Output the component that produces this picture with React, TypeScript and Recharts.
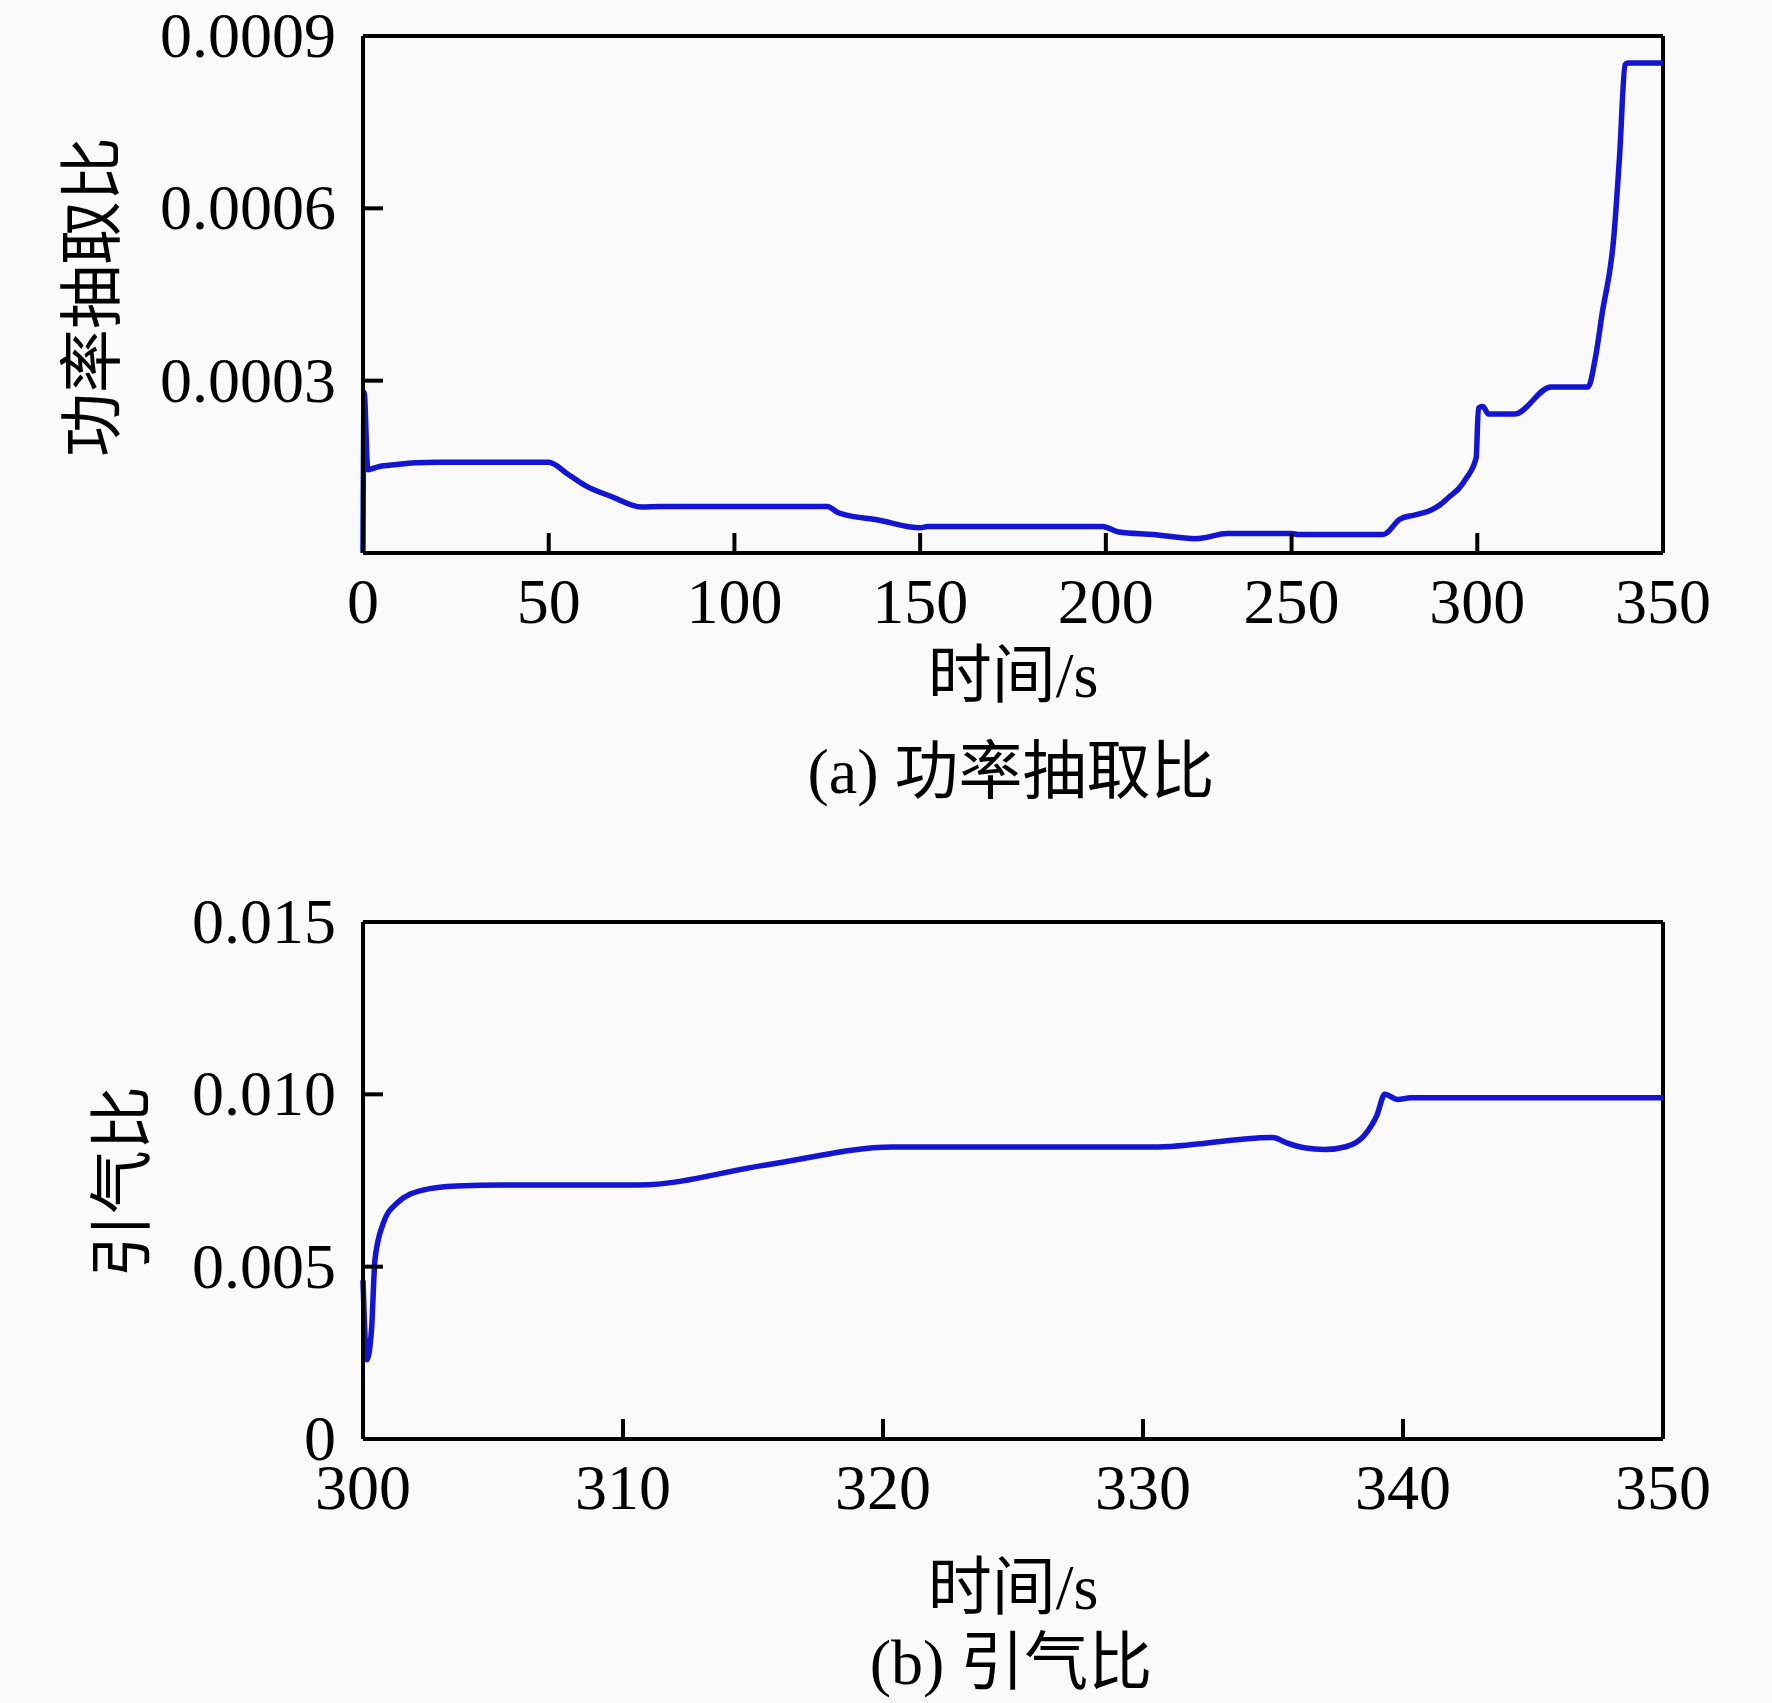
import React from 'react';
import { LineChart, Line, XAxis, YAxis, ReferenceLine } from 'recharts';

// (a) power extraction ratio over 0-350 s
const powerTime = [0, 0.3, 1.3, 4, 9, 14, 20, 30, 50, 55, 60, 67, 75, 80, 100, 125, 128, 139, 150, 152, 199, 203.5, 212.7, 224.3, 226, 232.6, 250, 252, 274.6, 279.3, 283, 287, 290, 292.4, 295, 297, 299.7, 300.3, 301.5, 303, 310, 319.9, 329.8, 331.8, 333.6, 336.8, 338.3, 339.8, 340.5, 350];
const powerRatio = [0, 0.00028, 0.000145, 0.00015, 0.000154, 0.000157, 0.000158, 0.000158, 0.000158, 0.000138, 0.000117, 0.000098, 0.00008, 0.000081, 0.000081, 0.000081, 0.00007, 0.000057, 0.000044, 0.000046, 0.000046, 0.0000366, 0.0000322, 0.000025, 0.000026, 0.000034, 0.000034, 0.000032, 0.000032, 0.0000595, 0.000066, 0.000073, 0.000084, 0.0000975, 0.000112, 0.00013, 0.000166, 0.000252, 0.000255, 0.000242, 0.000242, 0.000289, 0.000289, 0.00034, 0.000416, 0.000553, 0.00069, 0.00085, 0.000853, 0.000853];
const powerXTicks = [0, 50, 100, 150, 200, 250, 300, 350];
const powerYTicks = [0, 0.0003, 0.0006, 0.0009];
const powerYLabels = ['', '0.0003', '0.0006', '0.0009'];

// (b) bleed ratio over 300-350 s
const bleedTime = [300, 300.15, 300.33, 300.46, 300.78, 301.3, 302.3, 303.6, 305.4, 310.6, 315.5, 320.4, 330.4, 335, 335.5, 336.2, 337, 337.8, 338.5, 339, 339.3, 339.8, 340.3, 350];
const bleedRatio = [0.0046, 0.0023, 0.0032, 0.0052, 0.00626, 0.00684, 0.00722, 0.00734, 0.00737, 0.00737, 0.00795, 0.00847, 0.00847, 0.00875, 0.0086, 0.00845, 0.0084, 0.00848, 0.0088, 0.0094, 0.01, 0.00985, 0.0099, 0.0099];
const bleedXTicks = [300, 310, 320, 330, 340, 350];
const bleedYTicks = [0, 0.005, 0.01, 0.015];
const bleedYLabels = ['0', '0.005', '0.010', '0.015'];

const powerData = powerTime.map((t, i) => ({ t, v: powerRatio[i] }));
const bleedData = bleedTime.map((t, i) => ({ t, v: bleedRatio[i] }));

const FONT = "'Liberation Serif', 'Times New Roman', 'Noto Sans CJK SC', serif";
const LINE_BLUE = '#1414d4';
const AXIS = { stroke: '#000', strokeWidth: 4 };

function makeXTick(ends: number[]) {
  return (props: any) => {
    const { x, y, payload } = props;
    const inner = !ends.includes(payload.value);
    return (
      <g>
        {inner && <line x1={x} y1={y} x2={x} y2={y - 20} stroke="#000" strokeWidth={4} />}
        <text x={x} y={y + 70} textAnchor="middle" fontSize={64} fontFamily={FONT} fill="#000">
          {payload.value}
        </text>
      </g>
    );
  };
}

function makeYTick(values: number[], labels: string[]) {
  return (props: any) => {
    const { x, y, payload } = props;
    const i = values.indexOf(payload.value);
    const inner = i > 0 && i < values.length - 1;
    return (
      <g>
        {inner && <line x1={x} y1={y} x2={x + 20} y2={y} stroke="#000" strokeWidth={4} />}
        <text x={x - 27} y={y + 21} textAnchor="end" fontSize={64} fontFamily={FONT} fill="#000">
          {labels[i]}
        </text>
      </g>
    );
  };
}

function TextAt({ x, y, text, rotate }: { x: number; y: number; text: string; rotate?: boolean }) {
  return (
    <div
      style={{
        position: 'absolute',
        left: x,
        top: y,
        transform: `translate(-50%, -50%)${rotate ? ' rotate(-90deg)' : ''}`,
        whiteSpace: 'nowrap',
        fontSize: 64,
        lineHeight: 1,
        fontFamily: FONT,
        color: '#000',
      }}
    >
      {text}
    </div>
  );
}

export default function App() {
  return (
    <div style={{ position: 'absolute', left: 0, top: 0, width: 1772, height: 1703, background: '#fafafa', overflow: 'hidden' }}>
      <div style={{ position: 'absolute', left: 0, top: 0 }}>
        <LineChart width={1772} height={640} data={powerData} margin={{ top: 36, right: 109, bottom: 0, left: 0 }}>
          <XAxis
            type="number"
            dataKey="t"
            domain={[0, 350]}
            ticks={powerXTicks}
            interval={0}
            height={87}
            tickSize={0}
            tickMargin={0}
            axisLine={AXIS}
            tickLine={false}
            tick={makeXTick([0, 350])}
          />
          <YAxis
            type="number"
            domain={[0, 0.0009]}
            ticks={powerYTicks}
            interval={0}
            width={363}
            tickSize={0}
            tickMargin={0}
            axisLine={AXIS}
            tickLine={false}
            tick={makeYTick(powerYTicks, powerYLabels)}
          />
          <ReferenceLine y={0.0009} stroke="#000" strokeWidth={4} />
          <ReferenceLine x={350} stroke="#000" strokeWidth={4} />
          <Line type="monotone" dataKey="v" stroke={LINE_BLUE} strokeWidth={5.5} dot={false} isAnimationActive={false} />
        </LineChart>
      </div>
      <div style={{ position: 'absolute', left: 0, top: 886 }}>
        <LineChart width={1772} height={640} data={bleedData} margin={{ top: 36, right: 109, bottom: 0, left: 0 }}>
          <XAxis
            type="number"
            dataKey="t"
            domain={[300, 350]}
            ticks={bleedXTicks}
            interval={0}
            height={87}
            tickSize={0}
            tickMargin={0}
            axisLine={AXIS}
            tickLine={false}
            tick={makeXTick([300, 350])}
          />
          <YAxis
            type="number"
            domain={[0, 0.015]}
            ticks={bleedYTicks}
            interval={0}
            width={363}
            tickSize={0}
            tickMargin={0}
            axisLine={AXIS}
            tickLine={false}
            tick={makeYTick(bleedYTicks, bleedYLabels)}
          />
          <ReferenceLine y={0.015} stroke="#000" strokeWidth={4} />
          <ReferenceLine x={350} stroke="#000" strokeWidth={4} />
          <Line type="monotone" dataKey="v" stroke={LINE_BLUE} strokeWidth={5.5} dot={false} isAnimationActive={false} />
        </LineChart>
      </div>
      <TextAt x={93} y={297} text="功率抽取比" rotate />
      <TextAt x={1013} y={676} text="时间/s" />
      <TextAt x={1011} y={772} text="(a) 功率抽取比" />
      <TextAt x={123} y={1182} text="引气比" rotate />
      <TextAt x={1013} y={1588} text="时间/s" />
      <TextAt x={1011} y={1663} text="(b) 引气比" />
    </div>
  );
}
